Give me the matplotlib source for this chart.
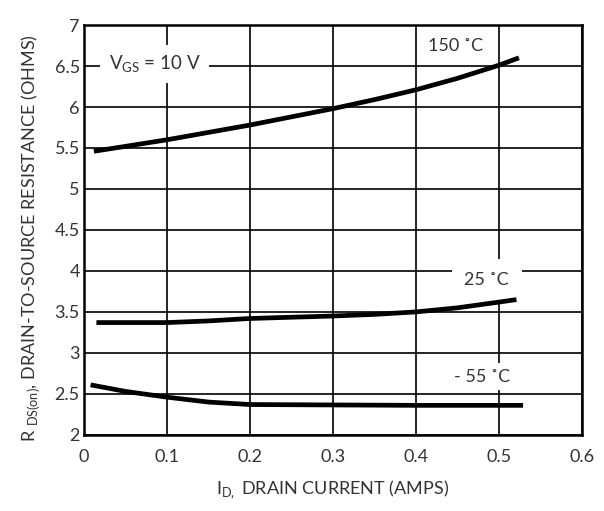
import matplotlib.pyplot as plt

plt.rcParams['font.family'] = ['Lato', 'DejaVu Sans']

id_150 = [0.012, 0.05, 0.1, 0.15, 0.2, 0.25, 0.3, 0.35, 0.4, 0.45, 0.5, 0.524]
r_150 = [5.46, 5.52, 5.6, 5.69, 5.78, 5.88, 5.98, 6.09, 6.21, 6.35, 6.51, 6.6]

id_25 = [0.015, 0.1, 0.15, 0.2, 0.3, 0.35, 0.4, 0.45, 0.5, 0.521]
r_25 = [3.37, 3.37, 3.39, 3.42, 3.45, 3.47, 3.5, 3.55, 3.62, 3.65]

id_m55 = [0.008, 0.05, 0.1, 0.15, 0.2, 0.3, 0.4, 0.529]
r_m55 = [2.61, 2.53, 2.46, 2.4, 2.37, 2.365, 2.36, 2.36]

x_ticks = [0, 0.1, 0.2, 0.3, 0.4, 0.5, 0.6]
x_labels = ["0", "0.1", "0.2", "0.3", "0.4", "0.5", "0.6"]
y_ticks = [2, 2.5, 3, 3.5, 4, 4.5, 5, 5.5, 6, 6.5, 7]
y_labels = ["2", "2.5", "3", "3.5", "4", "4.5", "5", "5.5", "6", "6.5", "7"]

txt = "#333333"

fig = plt.figure(figsize=(6.04, 5.11), dpi=100)
ax = fig.add_axes([0.139, 0.149, 0.8246, 0.802])

for xs, ys in [(id_150, r_150), (id_25, r_25), (id_m55, r_m55)]:
    ax.plot(xs, ys, color="black", lw=3.4, solid_capstyle="butt", zorder=3)

ax.set_xlim(0, 0.6)
ax.set_ylim(2, 7)
ax.set_xticks(x_ticks)
ax.set_xticklabels(x_labels)
ax.set_yticks(y_ticks)
ax.set_yticklabels(y_labels)
ax.tick_params(axis="x", length=0, labelsize=13, labelcolor=txt, pad=10)
ax.tick_params(axis="y", length=0, labelsize=13, labelcolor=txt, pad=3)
ax.grid(True, color="black", lw=1.2)
ax.set_axisbelow(True)
for s in ax.spines.values():
    s.set_linewidth(1.8)

ax.text(0.085, 6.52, r"V$_{\mathregular{GS}}$ = 10 V", ha="center", va="center",
        fontsize=13.5, color=txt, zorder=2,
        bbox=dict(facecolor="white", edgecolor="none", boxstyle="square,pad=0.45"))
ax.text(0.447, 6.74, "150 \u02daC", ha="center", va="center",
        fontsize=13, color=txt, zorder=2)
ax.text(0.485, 3.89, "25 \u02daC", ha="center", va="center",
        fontsize=13, color=txt, zorder=2,
        bbox=dict(facecolor="white", edgecolor="none", boxstyle="square,pad=0.7"))
ax.text(0.479, 2.71, "- 55 \u02daC", ha="center", va="center",
        fontsize=13, color=txt, zorder=2,
        bbox=dict(facecolor="white", edgecolor="none", boxstyle="square,pad=0.3"))

ax.set_xlabel(r"I$_{\mathregular{D,}}$ DRAIN CURRENT (AMPS)", fontsize=13,
              color=txt, labelpad=10)
ax.set_ylabel(r"R $_{\mathregular{DS(on)}}$, DRAIN-TO-SOURCE RESISTANCE (OHMS)",
              fontsize=13, color=txt)
ax.yaxis.set_label_coords(-0.085, 0.48)

fig.savefig("out.png", dpi=100)
